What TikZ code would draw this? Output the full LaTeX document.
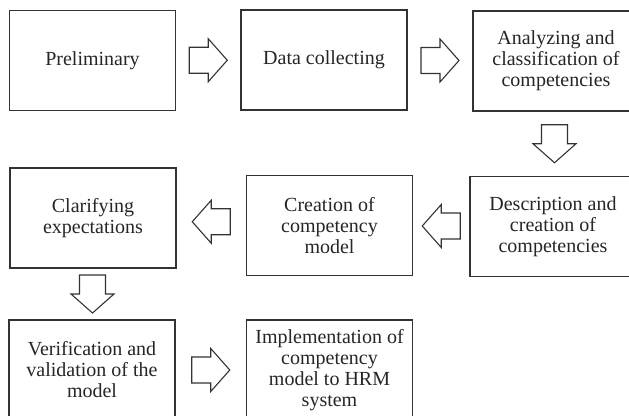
\documentclass[tikz,border=0pt]{standalone}
\usepackage{fontspec}
\setmainfont{Liberation Serif}
\usetikzlibrary{calc}
\tikzset{
  stage/.style={draw=black!80,line width=1.2pt,minimum width=166pt,minimum height=100pt,
    align=center,inner sep=2pt,font=\fontsize{20}{21}\selectfont,text=black!85},
  pics/fatarrow/.style={code={
    \draw[draw=black!80,line width=1.1pt,line join=miter]
      (-19,-13)--(0,-13)--(0,-21.5)--(19,0)--(0,21.5)--(0,13)--(-19,13)--cycle;}}
}
\begin{document}
\begin{tikzpicture}[x=1pt,y=-1pt]
            \useasboundingbox[fill=white] (0,0) rectangle (629,415);
            \node[stage] (prelim) at (92.5,60.5) {Preliminary};
            \node[stage] (collect) at (324,60) {Data collecting};
            \node[stage] (analyze) at (556,61) {Analyzing and\\classification of\\competencies};
            \node[stage] (describe) at (553,226.5) {Description and\\creation of\\competencies};
            \node[stage] (create) at (329.5,225.5) {Creation of\\competency\\model};
            \node[stage] (clarify) at (93,218) {Clarifying\\expectations};
            \node[stage] (verify) at (92,370) {Verification and\\validation of the\\model};
            \node[stage] (implement) at (329.5,370) {Implementation of\\competency\\model to HRM\\system};
            \foreach \a/\b/\r in {prelim/collect/0,collect/analyze/0,analyze/describe/-90,describe/create/180,create/clarify/180,clarify/verify/-90,verify/implement/0}
            \pic[rotate=\r] at ($(\a)!0.5!(\b)$) {fatarrow};
        \end{tikzpicture}
\end{document}
